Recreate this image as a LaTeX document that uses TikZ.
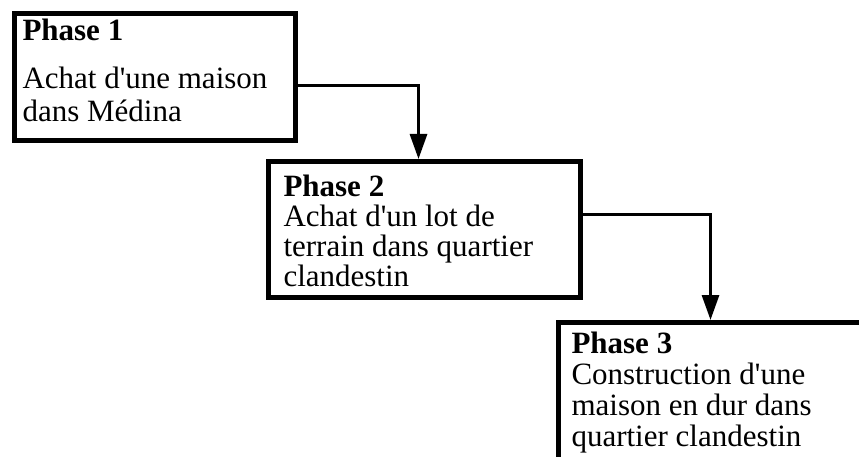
\documentclass[tikz,border=0pt]{standalone}
\usepackage{fontspec}
\setmainfont{Liberation Serif}[Ligatures=TeXOff]
\usetikzlibrary{arrows.meta,calc}

\tikzset{
  phasebox/.style={draw, line width=5pt, inner ysep=0pt, anchor=north west,
    font=\fontsize{31}{31}\selectfont},
  flow/.style={line width=3pt, -{Triangle[length=25pt,width=17pt]}}
}

\begin{document}
\begin{tikzpicture}[x=1pt,y=-1pt]
  \useasboundingbox (0,0) rectangle (859,457);
  % the three phases
  \node[phasebox, inner xsep=8pt] (p1) at (12,11)
    {\parbox[c][127pt][t]{265pt}{\raggedright\fontsize{31}{33}\selectfont\vspace*{5pt}%
      \textbf{Phase 1}\\[15pt]
      Achat d'une maison\\
      dans Médina}};
  \node[phasebox, inner xsep=15pt] (p2) at (266,159)
    {\parbox[c][136pt][t]{282pt}{\raggedright\fontsize{31}{30}\selectfont\vspace*{13pt}%
      \textbf{Phase 2}\\
      Achat d'un lot de\\
      terrain dans quartier\\
      clandestin}};
  \node[phasebox, inner xsep=13pt] (p3) at (556,320)
    {\parbox[c][160pt][t]{284pt}{\raggedright\fontsize{31}{31}\selectfont\vspace*{9pt}%
      \textbf{Phase 3}\\
      Construction d'une\\
      maison en dur dans\\
      quartier clandestin}};
  % links
  \draw[flow] ([yshift=-8.5pt]p1.east) -| ([xshift=-6pt]p2.north);
  \draw[flow] ([yshift=15pt]p2.east) -| ([xshift=-3pt]p3.north);
\end{tikzpicture}
\end{document}
